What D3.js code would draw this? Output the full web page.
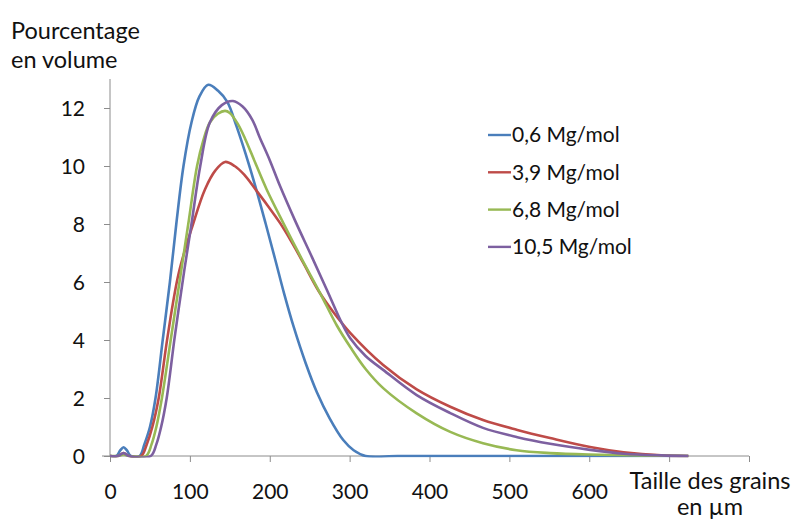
<!DOCTYPE html>
<html>
<head>
<meta charset="utf-8">
<script src="https://cdn.jsdelivr.net/npm/d3@7/dist/d3.min.js"></script>
<style>
  html, body { margin: 0; padding: 0; background: #fff; }
  svg { display: block; }
  text { font-family: Lato, "Open Sans", sans-serif; fill: #111; }
</style>
</head>
<body>
<svg id="chart" width="806" height="522"></svg>
<script>
// ---- Data ----
const seriesNames = ["0,6 Mg/mol", "3,9 Mg/mol", "6,8 Mg/mol", "10,5 Mg/mol"];
const seriesColors = ["#4A7EBB", "#BE4B48", "#98B954", "#7D60A0"];

const blueX = [0, 8, 13, 17, 21, 26, 37, 43, 50, 57, 66, 75, 83, 92, 102, 112, 123, 135, 147, 158, 170, 182, 195, 207, 218, 230, 245, 259, 275, 292, 305, 320, 360, 450, 550, 650, 724];
const blueY = [0, 0, 0.2, 0.3, 0.2, 0, 0, 0.4, 1.0, 2.0, 4.0, 6.0, 8.0, 10.0, 11.5, 12.4, 12.8, 12.6, 12.2, 11.4, 10.4, 9.3, 8.0, 6.76, 5.6, 4.45, 3.2, 2.2, 1.3, 0.55, 0.2, 0, 0, 0, 0, 0, 0];

const redX = [0, 10, 17, 24, 39, 46, 53, 61, 72, 86, 104, 119, 132, 144, 156, 168, 182, 197, 213, 228, 242, 261, 280, 301, 342, 384, 426, 467, 510, 551, 601, 643, 690, 724];
const redY = [0, 0, 0.1, 0, 0, 0.4, 1.0, 2.0, 4.1, 6.3, 8.0, 9.2, 9.85, 10.14, 10.0, 9.7, 9.2, 8.65, 8.03, 7.35, 6.66, 5.7, 4.95, 4.24, 3.14, 2.3, 1.7, 1.24, 0.9, 0.62, 0.31, 0.13, 0.02, 0];

const greenX = [0, 10, 17, 24, 45, 52, 58, 65, 76, 87, 98, 109, 117, 125, 135, 144, 150, 160, 169, 182, 196, 217, 240, 263, 284, 301, 320, 342, 384, 426, 467, 509, 551, 600, 650, 700, 724];
const greenY = [0, 0, 0.05, 0, 0, 0.4, 1.0, 2.0, 4.0, 6.0, 8.0, 10.0, 10.9, 11.5, 11.8, 11.9, 11.83, 11.45, 10.95, 10.1, 9.2, 8.03, 6.8, 5.62, 4.5, 3.75, 3.0, 2.34, 1.47, 0.83, 0.44, 0.2, 0.1, 0.05, 0.03, 0.01, 0];

const purpleX = [0, 10, 17, 24, 51, 58, 64, 71, 81, 93, 102, 113, 125, 140, 154, 166, 178, 188, 200, 213, 232, 253, 272, 290, 301, 320, 342, 384, 426, 467, 510, 551, 601, 643, 690, 724];
const purpleY = [0, 0, 0.1, 0, 0, 0.4, 1.0, 2.0, 4.1, 6.4, 8.0, 10.0, 11.5, 12.1, 12.24, 12.05, 11.6, 10.95, 10.2, 9.3, 8.1, 6.85, 5.7, 4.6, 4.05, 3.45, 2.97, 2.1, 1.48, 0.97, 0.65, 0.42, 0.21, 0.08, 0.02, 0];

const xTicks = [0, 100, 200, 300, 400, 500, 600, 700, 800];
const xTickLabels = ["0", "100", "200", "300", "400", "500", "600", "", ""];
const yTicks = [0, 2, 4, 6, 8, 10, 12];

const yTitle = ["Pourcentage", "en volume"];
const xTitle = ["Taille des grains", "en µm"];

// ---- Build ----
const series = [
  { name: seriesNames[0], color: seriesColors[0], x: blueX, y: blueY },
  { name: seriesNames[1], color: seriesColors[1], x: redX, y: redY },
  { name: seriesNames[2], color: seriesColors[2], x: greenX, y: greenY },
  { name: seriesNames[3], color: seriesColors[3], x: purpleX, y: purpleY }
];

const svg = d3.select("#chart");
const axisColor = "#8c8c8c";

const x = d3.scaleLinear().domain([0, 800]).range([110, 749]);
const y = d3.scaleLinear().domain([0, 13]).range([456, 79]);

// X axis
const gx = svg.append("g").attr("transform", `translate(0,${y(0)})`)
  .call(d3.axisBottom(x).tickValues(xTicks)
    .tickFormat((d, i) => xTickLabels[i]).tickSize(6).tickSizeOuter(0));
gx.select(".domain").remove();
gx.selectAll(".tick line").attr("stroke", axisColor);
gx.selectAll("text").style("font-size", "21px").attr("fill", "#111")
  .attr("y", 43).attr("dy", null);
svg.append("line").attr("x1", x(0) - 8).attr("x2", x(800))
  .attr("y1", y(0)).attr("y2", y(0)).attr("stroke", axisColor);

// Y axis
const gy = svg.append("g").attr("transform", `translate(${x(0)},0)`)
  .call(d3.axisLeft(y).tickValues(yTicks).tickSize(6).tickSizeOuter(0));
gy.select(".domain").remove();
gy.selectAll(".tick line").attr("stroke", axisColor);
gy.selectAll("text").style("font-size", "21px").attr("fill", "#111")
  .attr("x", -25).attr("dy", "0.36em");
svg.append("line").attr("x1", x(0)).attr("x2", x(0))
  .attr("y1", y(13)).attr("y2", y(0)).attr("stroke", axisColor);

// Clip so the smoothed curves do not dip under the axis
svg.append("defs").append("clipPath").attr("id", "plotclip")
  .append("rect").attr("x", x(0)).attr("y", 0)
  .attr("width", x(800) - x(0)).attr("height", y(0) + 1.4);

// Lines
const line = d3.line()
  .x(d => x(d[0])).y(d => y(d[1]))
  .curve(d3.curveCatmullRom.alpha(0.5));

const plot = svg.append("g").attr("clip-path", "url(#plotclip)");
series.forEach(s => {
  const pts = s.x.map((v, i) => [v, s.y[i]]);
  plot.append("path").datum(pts)
    .attr("d", line)
    .attr("fill", "none")
    .attr("stroke", s.color)
    .attr("stroke-width", 2.6)
    .attr("stroke-linejoin", "round");
});

// Titles
svg.append("text").attr("x", 11).attr("y", 39).style("font-size", "23.5px").text(yTitle[0]);
svg.append("text").attr("x", 11).attr("y", 68).style("font-size", "23.5px").text(yTitle[1]);
svg.append("text").attr("x", 710).attr("y", 489).attr("text-anchor", "middle").style("font-size", "23.5px").text(xTitle[0]);
svg.append("text").attr("x", 710).attr("y", 515).attr("text-anchor", "middle").style("font-size", "23.5px").text(xTitle[1]);

// Legend
const lg = svg.append("g");
series.forEach((s, i) => {
  const cy = 135 + i * 37.3;
  lg.append("line").attr("x1", 488).attr("x2", 511).attr("y1", cy).attr("y2", cy)
    .attr("stroke", s.color).attr("stroke-width", 2.4);
  lg.append("text").attr("x", 512).attr("y", cy).attr("dy", "0.35em")
    .style("font-size", "21px").text(s.name);
});
</script>
</body>
</html>
